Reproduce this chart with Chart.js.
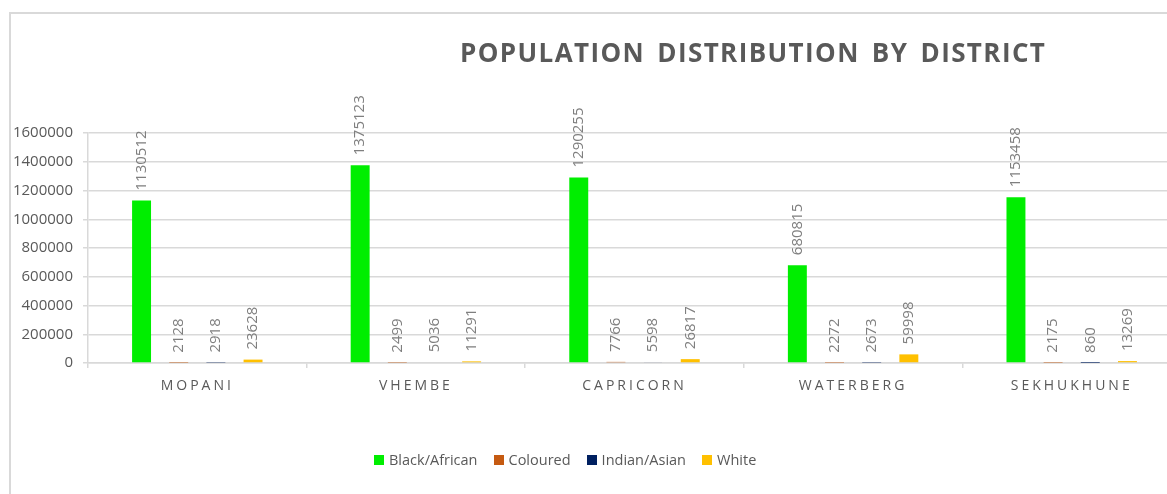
<!DOCTYPE html>
<html>
<head>
<meta charset="utf-8">
<script src="https://cdn.jsdelivr.net/npm/chart.js@4/dist/chart.umd.min.js"></script>
<style>
  html, body { margin: 0; padding: 0; background: #fff; }
  #wrap { position: relative; width: 1167px; height: 494px; overflow: hidden; background: #fff; }
  #frame { position: absolute; left: 9px; top: 12px; width: 1300px; height: 600px;
           border-left: 2px solid #d9d9d9; border-top: 2px solid #d9d9d9; box-sizing: border-box; }
  #c { position: absolute; left: 0; top: 0; }
  #title { position: absolute; left: 460px; top: 34px; font-family: "Open Sans", sans-serif; font-weight: 700;
           font-size: 26px; color: #595959; letter-spacing: 1.4px; word-spacing: 4px; white-space: nowrap; }
  #legend { position: absolute; left: 374px; top: 450px; display: flex; align-items: center;
            font-family: "Open Sans", sans-serif; font-size: 14.5px; color: #595959; white-space: nowrap; }
  #legend .it { display: flex; align-items: center; margin-right: 16px; }
  #legend .sw { width: 10px; height: 10px; margin-right: 5px; }
</style>
</head>
<body>
<div id="wrap">
  <div id="frame"></div>
  <canvas id="c" width="1181" height="494"></canvas>
  <div id="title">POPULATION DISTRIBUTION BY DISTRICT</div>
  <div id="legend"></div>
</div>
<script>
const categories = ['MOPANI', 'VHEMBE', 'CAPRICORN', 'WATERBERG', 'SEKHUKHUNE'];
const seriesNames = ['Black/African', 'Coloured', 'Indian/Asian', 'White'];
const blackAfrican = [1130512, 1375123, 1290255, 680815, 1153458];
const coloured = [2128, 2499, 7766, 2272, 2175];
const indianAsian = [2918, 5036, 5598, 2673, 860];
const white = [23628, 11291, 26817, 59998, 13269];
const yTickMin = 0;
const yTickMax = 1600000;
const yTickStep = 200000;

const seriesColors = ['#00ee00', '#c55a11', '#002060', '#ffc000'];
const seriesData = [blackAfrican, coloured, indianAsian, white];

// HTML legend
const lg = document.getElementById('legend');
seriesNames.forEach((n, i) => {
  const it = document.createElement('div'); it.className = 'it';
  const sw = document.createElement('div'); sw.className = 'sw'; sw.style.background = seriesColors[i];
  const tx = document.createElement('span'); tx.textContent = n;
  it.appendChild(sw); it.appendChild(tx); lg.appendChild(it);
});

const valueLabels = {
  id: 'valueLabels',
  afterDatasetsDraw(chart) {
    const ctx = chart.ctx;
    ctx.save();
    ctx.font = '15px "Open Sans", sans-serif';
    ctx.fillStyle = '#7f7f7f';
    ctx.textAlign = 'left';
    ctx.textBaseline = 'middle';
    chart.data.datasets.forEach((ds, di) => {
      const meta = chart.getDatasetMeta(di);
      meta.data.forEach((el, i) => {
        ctx.save();
        ctx.translate(el.x, el.y - 10);
        ctx.rotate(-Math.PI / 2);
        ctx.fillText(String(ds.data[i]), 0, 0);
        ctx.restore();
      });
    });
    ctx.restore();
  }
};

const spacedX = {
  id: 'spacedX',
  afterUpdate(chart) {
    const s = chart.scales.x;
    if (s && !s._spaced) {
      const orig = s.drawLabels.bind(s);
      s.drawLabels = function (area) {
        const c = this.ctx;
        c.save();
        c.letterSpacing = '3px';
        orig(area);
        c.restore();
      };
      s._spaced = true;
    }
  }
};

new Chart(document.getElementById('c'), {
  type: 'bar',
  data: {
    labels: categories,
    datasets: seriesNames.map((n, i) => ({
      label: n,
      data: seriesData[i],
      backgroundColor: seriesColors[i],
      borderWidth: 0,
      categoryPercentage: 0.68,
      barPercentage: 0.51
    }))
  },
  options: {
    responsive: false,
    animation: false,
    devicePixelRatio: 1,
    layout: { padding: { top: 133, left: 0, right: 0, bottom: 0 } },
    plugins: { legend: { display: false }, title: { display: false }, tooltip: { enabled: false } },
    scales: {
      x: {
        afterFit(scale) { scale.height = 131; },
        grid: { display: true, drawOnChartArea: false, drawTicks: true, tickLength: 5, color: '#d9d9d9', lineWidth: 1.5 },
        border: { display: true, color: '#d9d9d9', width: 1.5 },
        ticks: { color: '#595959', font: { family: '"Open Sans", sans-serif', size: 14 }, padding: 10, maxRotation: 0 }
      },
      y: {
        min: yTickMin, max: yTickMax,
        afterFit(scale) { scale.width = 88; },
        grid: { color: '#d9d9d9', lineWidth: 1.5, drawTicks: true, tickLength: 5 },
        border: { display: true, color: '#d9d9d9', width: 1.5 },
        ticks: { stepSize: yTickStep, color: '#595959', font: { family: '"Open Sans", sans-serif', size: 15 }, padding: 10,
                 callback: v => String(v) }
      }
    }
  },
  plugins: [valueLabels, spacedX]
});
</script>
</body>
</html>
